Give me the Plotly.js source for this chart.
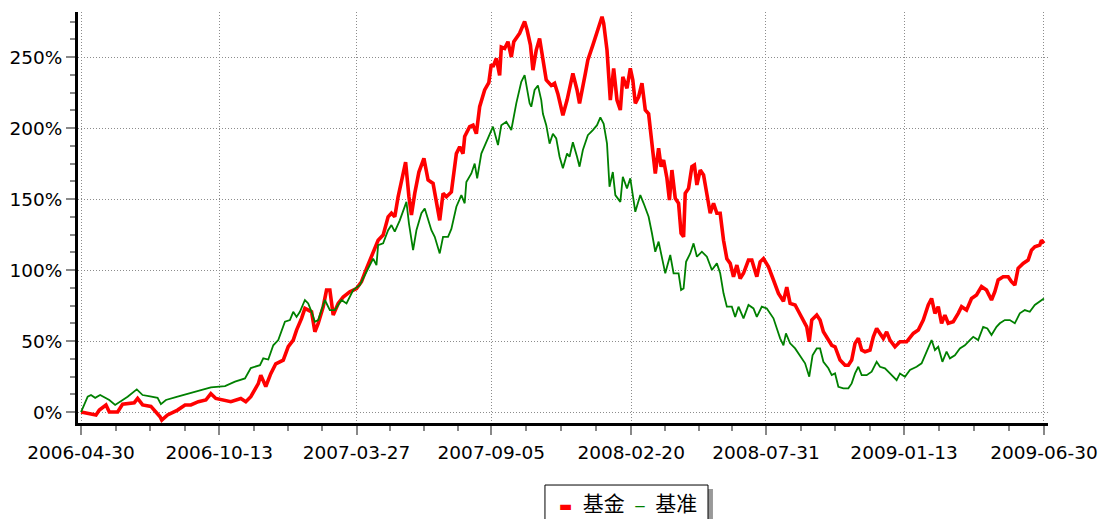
<!DOCTYPE html>
<html>
<head>
<meta charset="utf-8">
<script src="https://cdn.plot.ly/plotly-3.0.1.min.js"></script>
<style>
html,body{margin:0;padding:0;background:#fff;}
#chart{width:1103px;height:519px;}
</style>
</head>
<body>
<div id="chart"></div>
<script>
// Tick labels on the date axis
const tickLabels = ['2006-04-30','2006-10-13','2007-03-27','2007-09-05','2008-02-20','2008-07-31','2009-01-13','2009-06-30'];

// Fund (基金) cumulative return, %
const fundDates = [
'2006-04-30','2006-05-08','2006-05-18','2006-05-22','2006-05-30','2006-06-03','2006-06-13','2006-06-19','2006-07-03','2006-07-07','2006-07-13','2006-07-23','2006-08-03','2006-08-05','2006-08-12','2006-08-24','2006-09-02','2006-09-09','2006-09-18','2006-09-27','2006-10-03','2006-10-09','2006-10-20','2006-10-27','2006-11-08','2006-11-14','2006-11-20','2006-11-29','2006-12-02','2006-12-08','2006-12-14','2006-12-20','2006-12-29',
'2007-01-04','2007-01-10','2007-01-14','2007-01-20','2007-01-24','2007-02-01','2007-02-05','2007-02-09','2007-02-15','2007-02-19','2007-02-23','2007-02-27','2007-03-05','2007-03-11','2007-03-19','2007-03-27','2007-04-02','2007-04-08','2007-04-16','2007-04-22','2007-04-28','2007-05-04','2007-05-08','2007-05-12','2007-05-16','2007-05-20','2007-05-25','2007-05-29','2007-06-01','2007-06-05','2007-06-10','2007-06-16','2007-06-21','2007-06-27','2007-07-03','2007-07-05','2007-07-09','2007-07-13','2007-07-19','2007-07-25','2007-07-29','2007-08-02','2007-08-04','2007-08-10','2007-08-14','2007-08-18','2007-08-22','2007-08-28','2007-09-02','2007-09-05','2007-09-07','2007-09-11','2007-09-15','2007-09-17','2007-09-21','2007-09-25','2007-09-29','2007-10-02','2007-10-09','2007-10-15','2007-10-18','2007-10-22','2007-10-25','2007-10-29','2007-11-02','2007-11-06','2007-11-10','2007-11-16','2007-11-20','2007-11-24','2007-11-30','2007-12-05','2007-12-08','2007-12-12','2007-12-17','2007-12-20','2007-12-27','2007-12-30',
'2008-01-05','2008-01-10','2008-01-16','2008-01-18','2008-01-22','2008-01-26','2008-01-30','2008-02-03','2008-02-07','2008-02-10','2008-02-15','2008-02-19','2008-02-22','2008-02-25','2008-02-29','2008-03-04','2008-03-08','2008-03-12','2008-03-16','2008-03-20','2008-03-24','2008-03-27','2008-03-30','2008-04-03','2008-04-06','2008-04-09','2008-04-13','2008-04-17','2008-04-20','2008-04-23','2008-04-25','2008-04-29','2008-05-03','2008-05-06','2008-05-09','2008-05-13','2008-05-17','2008-05-20','2008-05-25','2008-05-29','2008-06-02','2008-06-06','2008-06-10','2008-06-14','2008-06-18','2008-06-22','2008-06-26','2008-06-30','2008-07-04','2008-07-10','2008-07-14','2008-07-20','2008-07-24','2008-07-28','2008-08-03','2008-08-09','2008-08-15','2008-08-21','2008-08-25','2008-08-29','2008-09-04','2008-09-08','2008-09-14','2008-09-18','2008-09-21','2008-09-24','2008-09-30','2008-10-04','2008-10-08','2008-10-14','2008-10-18','2008-10-22','2008-10-28','2008-11-03','2008-11-07','2008-11-11','2008-11-15','2008-11-19','2008-11-23','2008-11-27','2008-12-03','2008-12-07','2008-12-11','2008-12-15','2008-12-19','2008-12-23','2008-12-27',
'2009-01-02','2009-01-08','2009-01-16','2009-01-24','2009-01-30','2009-02-05','2009-02-11','2009-02-15','2009-02-19','2009-02-23','2009-02-27','2009-03-03','2009-03-07','2009-03-13','2009-03-19','2009-03-23','2009-03-29','2009-04-04','2009-04-10','2009-04-16','2009-04-22','2009-04-28','2009-05-02','2009-05-06','2009-05-12','2009-05-18','2009-05-22','2009-05-26','2009-05-30','2009-06-05','2009-06-11','2009-06-15','2009-06-19','2009-06-25','2009-06-27','2009-06-30'
];
const fundValues = [
0,-1,-2,1.4,5,0,0,5.6,6.6,9.6,5,4,-3.3,-5.6,-2,1.4,5,5,7.3,8.5,13,9.6,8.5,7.3,9.6,7.3,10.8,20,26,18,27,34,36.6,
46,50.7,57.7,66,73,70.6,56.5,62.5,74.2,85.9,85.9,68.3,76.5,81,84.7,87,91.8,101,111.7,121,124.6,137.5,140,137.5,151.6,163.4,176,151.6,138.7,154,169,178.6,163.4,161,140,135,154,151.6,155,182,186.8,182,194,201,202,196,215,226.8,232,245,243,249,237,257,256,260.8,250,260.8,266.7,275,269,258.4,240.8,254.9,263,249,233.8,230,231.5,224,209,219.7,226.8,238.5,226.8,217.4,238.5,247.9,
258.4,266.7,278.4,273.7,254.9,219.7,242,219.7,212.7,236,228,242,233.8,217.4,222,231.5,212.7,210,186.8,168,185.7,172.8,177.5,164.6,149.3,170.4,150.5,147,125.9,123.4,154,157.5,172.8,173.9,159.9,170.4,166.9,156.3,140,147,140,140,121,108,104.7,95.3,103.5,94,97.7,107,107,95.3,105.8,108,102.3,93,83.6,78,88,76.5,75.4,71,65,60,49.5,64.8,68.3,64.8,56.5,50.7,47,46,36.6,33,33,36.6,48.4,51.9,43.7,42.5,43.7,53,58.9,55.4,51.9,56.5,50.7,
46,49.5,49.5,55.4,57.7,64.8,75.4,80,69.5,74.2,62.5,68.3,62.5,63.6,69.5,74.2,71.8,80,82.4,88.3,85.9,78.9,84.7,93,95.3,95.3,91.8,89.4,101.2,104.7,107,114,116.4,117.6,121,118.8
];

// Benchmark (基准) cumulative return, %
const benchDates = [
'2006-04-30','2006-05-08','2006-05-12','2006-05-17','2006-05-23','2006-06-03','2006-06-10','2006-06-18','2006-06-25','2006-07-06','2006-07-13','2006-07-22','2006-07-31','2006-08-04','2006-08-10','2006-08-24','2006-09-14','2006-10-03','2006-10-20','2006-11-01','2006-11-13','2006-11-20','2006-12-01','2006-12-05','2006-12-11','2006-12-17','2006-12-23','2006-12-31',
'2007-01-06','2007-01-10','2007-01-14','2007-01-18','2007-01-24','2007-01-28','2007-02-01','2007-02-05','2007-02-09','2007-02-17','2007-02-23','2007-03-01','2007-03-09','2007-03-15','2007-03-23','2007-03-31','2007-04-08','2007-04-16','2007-04-20','2007-04-22','2007-04-28','2007-05-04','2007-05-08','2007-05-12','2007-05-18','2007-05-22','2007-05-26','2007-05-29','2007-06-03','2007-06-07','2007-06-13','2007-06-17','2007-06-21','2007-06-25','2007-06-29','2007-07-05','2007-07-09','2007-07-15','2007-07-19','2007-07-25','2007-07-31','2007-08-04','2007-08-06','2007-08-12','2007-08-16','2007-08-19','2007-08-24','2007-08-30','2007-09-03','2007-09-07','2007-09-13','2007-09-17','2007-09-23','2007-09-29','2007-10-05','2007-10-11','2007-10-15','2007-10-21','2007-10-23','2007-10-27','2007-10-31','2007-11-04','2007-11-06','2007-11-10','2007-11-14','2007-11-18','2007-11-22','2007-11-26','2007-11-30','2007-12-05','2007-12-08','2007-12-12','2007-12-17','2007-12-20','2007-12-24','2007-12-30',
'2008-01-05','2008-01-10','2008-01-14','2008-01-18','2008-01-22','2008-01-25','2008-01-29','2008-02-01','2008-02-07','2008-02-10','2008-02-15','2008-02-19','2008-02-25','2008-02-29','2008-03-02','2008-03-06','2008-03-12','2008-03-16','2008-03-20','2008-03-24','2008-03-28','2008-04-01','2008-04-07','2008-04-11','2008-04-17','2008-04-20','2008-04-23','2008-04-26','2008-05-01','2008-05-05','2008-05-09','2008-05-15','2008-05-21','2008-05-27','2008-06-02','2008-06-06','2008-06-10','2008-06-14','2008-06-20','2008-06-24','2008-06-28','2008-07-04','2008-07-10','2008-07-16','2008-07-20','2008-07-26','2008-08-01','2008-08-09','2008-08-17','2008-08-21','2008-08-24','2008-08-29','2008-09-04','2008-09-10','2008-09-16','2008-09-21','2008-09-25','2008-09-30','2008-10-04','2008-10-08','2008-10-14','2008-10-18','2008-10-22','2008-10-26','2008-11-01','2008-11-07','2008-11-11','2008-11-15','2008-11-19','2008-11-23','2008-11-29','2008-12-05','2008-12-11','2008-12-15','2008-12-21','2008-12-27',
'2009-01-04','2009-01-08','2009-01-14','2009-01-20','2009-01-28','2009-02-03','2009-02-07','2009-02-12','2009-02-15','2009-02-19','2009-02-23','2009-02-28','2009-03-05','2009-03-09','2009-03-15','2009-03-21','2009-03-27','2009-04-02','2009-04-06','2009-04-12','2009-04-18','2009-04-23','2009-04-28','2009-05-04','2009-05-08','2009-05-14','2009-05-20','2009-05-26','2009-06-01','2009-06-07','2009-06-13','2009-06-19','2009-06-25','2009-06-30'
];
const benchValues = [
0,10.8,12,10,12,8.5,5,8,10.8,16,12,11,10,5.6,8.5,10.8,14.3,17.4,18.3,21.4,23.7,31,33,37.8,37,47,50.7,63.6,
64.8,70.6,67,70.6,78.9,76.5,70.6,63.6,64.8,78.9,71.8,71.8,78.9,76.5,85.9,89.4,98.8,108,103.5,117.6,118.8,128,131.7,127,135,141,148,132.9,114,128,140,143.4,135,128,123.4,111.7,123.4,123.4,129,144.6,152.8,147,162,168,175,164.6,182,190,195,201,188,202,204.4,198.6,217.4,232.6,237.3,217.4,215,226.8,230,219.7,210,202,189,196,192.7,179.8,171.6,182,179.8,190,179.8,172.8,184.5,195,
198.6,202,207.5,203,189,158.7,169,152.8,148,165.7,157.5,164.6,141,149.3,152.8,147,137.5,125.9,112.9,120,109.4,97.7,110.6,97.7,97.7,85.9,87,105.8,111.7,118.8,109.4,112.9,109.4,100,104.7,97.7,83.6,74.2,74.2,67,74.2,66,75.4,73,67,74.2,73,66,51.9,47,55.4,48.4,44.8,40,34.3,24.9,40,44.8,44.8,35.4,30.8,26,27.2,17.8,16.7,16.7,20.2,27.2,31.9,26,26,28.4,35.4,31.9,30.8,27.2,
22.5,27.2,24.9,29.6,31.9,34.3,40,47,50.7,43.7,46,35.4,42.5,37.8,40,44.8,47,50.7,53,50.7,60,58.9,54.2,60,62.5,64.8,64.8,62.5,69.5,71.8,70.6,75.4,77.7,80
];

// minor ticks: three evenly spaced between each labelled date
const tickMs = tickLabels.map(s => Date.parse(s + 'T00:00:00Z'));
const minorX = [];
for (let i = 0; i < tickMs.length - 1; i++) {
  for (let k = 1; k < 4; k++) minorX.push(tickMs[i] + (tickMs[i+1] - tickMs[i]) * k / 4);
}

const traces = [
  {x: fundDates, y: fundValues, name: '基金', type: 'scatter', mode: 'lines',
   line: {color: '#ff0000', width: 3.6}, hovertemplate: '%{x}<br>%{y:.1f}%<extra>基金</extra>'},
  {x: benchDates, y: benchValues, name: '基准', type: 'scatter', mode: 'lines',
   line: {color: '#008000', width: 1.8}, hovertemplate: '%{x}<br>%{y:.1f}%<extra>基准</extra>'}
];

const tickFont = {family: 'DejaVu Sans, Verdana, sans-serif', size: 18.5, color: '#000'};
const SP = '\u2002';

const layout = {
  width: 1103, height: 519,
  margin: {l: 78, r: 55, t: 12, b: 96, pad: 0},
  paper_bgcolor: '#fff', plot_bgcolor: '#fff',
  showlegend: false,
  xaxis: {
    type: 'date',
    range: ['2006-04-26 09:00', '2009-07-04 21:00'],
    tickmode: 'array', tickvals: tickLabels, ticktext: tickLabels,
    showline: true, linecolor: '#000', linewidth: 3,
    ticks: 'outside', ticklen: 9, tickwidth: 1.5, tickcolor: '#888',
    ticklabelstandoff: 2,
    showgrid: true, gridcolor: '#8c8c8c', gridwidth: 1, griddash: '1px,2px',
    zeroline: false, tickfont: tickFont, tickangle: 0,
    minor: {tickmode: 'array', tickvals: minorX, ticks: 'outside', ticklen: 5, tickwidth: 1.5, tickcolor: '#888', showgrid: false}
  },
  yaxis: {
    range: [-7.7, 281.7],
    tickmode: 'linear', tick0: 0, dtick: 50, ticksuffix: '%',
    showline: true, linecolor: '#000', linewidth: 3,
    ticks: 'outside', ticklen: 9, tickwidth: 1.5, tickcolor: '#888',
    showgrid: true, gridcolor: '#8c8c8c', gridwidth: 1, griddash: '1px,2px',
    zeroline: false, tickfont: tickFont,
    minor: {tick0: 0, dtick: 12.5, ticks: 'outside', ticklen: 5, tickwidth: 1.5, tickcolor: '#888', showgrid: false}
  },
  shapes: [
    {type: 'rect', xref: 'paper', yref: 'paper', x0: 0.4856, x1: 0.6546, y0: -0.1606, y1: -0.27,
     fillcolor: '#999', line: {width: 0}},
    {type: 'rect', xref: 'paper', yref: 'paper', x0: 0.4814, x1: 0.6495, y0: -0.1509, y1: -0.2603,
     fillcolor: '#fff', line: {color: '#000', width: 1}}
  ],
  annotations: [
    {xref: 'paper', yref: 'paper', x: 0.5665, y: -0.1922, xanchor: 'center', yanchor: 'middle', showarrow: false,
     font: {family: 'Noto Sans CJK SC, sans-serif', size: 21, color: '#000'},
     text: '<span style="color:#ff0000;font-family:DejaVu Sans;font-size:14px">▬</span>' + SP + '基金' + SP +
           '<span style="color:#008000;font-family:Liberation Sans;font-size:17px">–</span>' + SP + '基准'}
  ]
};

Plotly.newPlot('chart', traces, layout, {displayModeBar: false, responsive: false});
</script>
</body>
</html>
